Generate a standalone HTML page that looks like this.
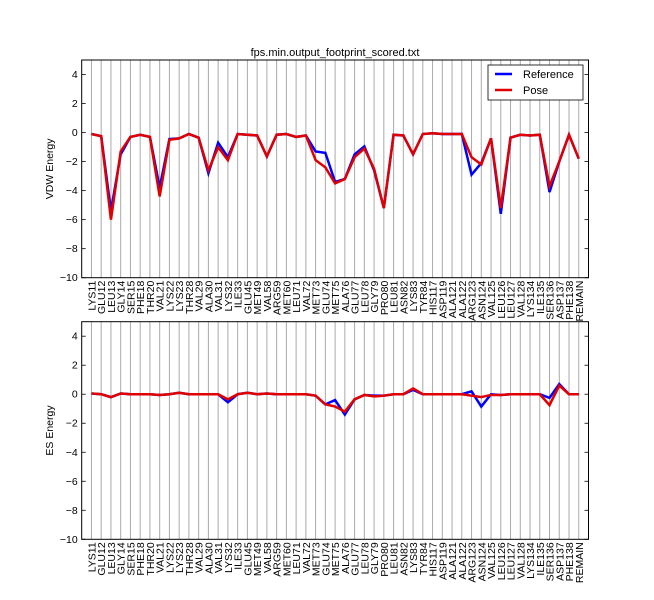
<!DOCTYPE html>
<html><head><meta charset="utf-8">
<style>
html,body{margin:0;padding:0;background:#fff;}
svg{display:block;font-family:"Liberation Sans","DejaVu Sans",sans-serif;}
</style></head>
<body>
<svg id="chart" width="654" height="600" viewBox="0 0 654 600" xmlns="http://www.w3.org/2000/svg">
<rect x="0" y="0" width="654" height="600" fill="#fff"/>
<text x="335" y="56" font-size="11" text-anchor="middle">fps.min.output_footprint_scored.txt</text>
<g id="top"></g>
<g id="bottom"></g>
</svg>
<script>
const categories = ["LYS11","GLU12","LEU13","GLY14","SER15","PHE18","THR20","VAL21","LYS22","LYS23","THR28","VAL29","ALA30","VAL31","LYS32","ILE33","GLU45","MET49","VAL58","ARG59","MET60","LEU71","VAL72","MET73","GLU74","MET75","ALA76","GLU77","LEU78","GLY79","PRO80","LEU81","ASN82","LYS83","TYR84","HIS117","ASP119","ALA121","ALA122","ARG123","ASN124","VAL125","LEU126","LEU127","VAL128","LYS134","ILE135","SER136","ASP137","PHE138","REMAIN"];
const vdwReference = [-0.1,-0.25,-5.4,-1.5,-0.3,-0.15,-0.3,-3.8,-0.45,-0.4,-0.1,-0.35,-2.8,-0.7,-1.7,-0.1,-0.15,-0.2,-1.65,-0.15,-0.1,-0.3,-0.2,-1.3,-1.4,-3.4,-3.2,-1.5,-0.95,-2.6,-5.2,-0.15,-0.2,-1.5,-0.1,-0.05,-0.1,-0.1,-0.1,-2.9,-2.1,-0.4,-5.6,-0.35,-0.15,-0.2,-0.15,-4.1,-2.0,-0.15,-1.8];
const vdwPose = [-0.1,-0.25,-6.0,-1.3,-0.3,-0.15,-0.3,-4.4,-0.5,-0.4,-0.1,-0.35,-2.6,-1.0,-1.9,-0.1,-0.15,-0.2,-1.65,-0.15,-0.1,-0.3,-0.2,-1.9,-2.4,-3.5,-3.2,-1.7,-1.1,-2.5,-5.2,-0.15,-0.2,-1.5,-0.1,-0.05,-0.1,-0.1,-0.1,-1.7,-2.2,-0.4,-5.2,-0.35,-0.15,-0.2,-0.15,-3.7,-2.0,-0.15,-1.8];
const esReference = [0.05,0,-0.2,0.05,0,0,0,-0.05,0,0.1,0,0,0,0,-0.55,0,0.1,0,0.05,0,0,0,0,-0.1,-0.7,-0.4,-1.4,-0.35,-0.05,-0.1,-0.1,0,0,0.3,0,0,0,0,0,0.2,-0.85,0,-0.05,0,0,0,0,-0.25,0.7,0,0];
const esPose = [0.05,0,-0.2,0.05,0,0,0,-0.05,0,0.1,0,0,0,0,-0.35,0,0.1,0,0.05,0,0,0,0,-0.1,-0.7,-0.85,-1.2,-0.35,-0.05,-0.15,-0.1,0,0,0.4,0,0,0,0,0,-0.1,-0.2,-0.05,-0.05,0,0,0,0,-0.75,0.6,0,0];
const yTicks = [4,2,0,-2,-4,-6,-8,-10];

const NS="http://www.w3.org/2000/svg";
function mk(tag,attrs,parent){const e=document.createElementNS(NS,tag);for(const k in attrs)e.setAttribute(k,attrs[k]);parent.appendChild(e);return e;}

function panel(g, top, bottom, refData, poseData, yTitle, showLegend, prefix){
  const left=81.7,right=588.5;
  const xs=i=>left+(i+1)*(right-left)/(categories.length+1);
  const ys=v=>top+(5-v)*(bottom-top)/15;
  categories.forEach((c,i)=>{
    const l=mk('line',{x1:xs(i),x2:xs(i),y1:top,y2:bottom,stroke:'#aaa','stroke-width':1},g);
    
    
    const t=mk('text',{x:0,y:0,'font-size':10.5,'text-anchor':'end',transform:`translate(${xs(i)+4},${bottom+3}) rotate(-90)`},g);
    t.textContent=c;
    
    
  });
  yTicks.forEach(v=>{
    mk('line',{x1:left,x2:left+4,y1:ys(v),y2:ys(v),stroke:'#000','stroke-width':0.8},g);
    mk('line',{x1:right-4,x2:right,y1:ys(v),y2:ys(v),stroke:'#000','stroke-width':0.8},g);
    const t=mk('text',{x:left-4,y:ys(v)+3.5,'font-size':10.5,'text-anchor':'end'},g);
    t.textContent=(v<0?'\u2212':'')+Math.abs(v);
    
    
  });
  const mkLine=(data,color,name)=>{
    const p=mk('polyline',{points:data.map((v,i)=>xs(i)+','+ys(v)).join(' '),fill:'none',stroke:color,'stroke-width':2.5,'stroke-linejoin':'miter'},g);
    
    
  };
  mkLine(refData,'#0000ff',prefix+'-reference-line');
  mkLine(poseData,'#e00000',prefix+'-pose-line');
  const fr=mk('rect',{x:left,y:top,width:right-left,height:bottom-top,fill:'none',stroke:'#000','stroke-width':1},g);
  
  
  const yt=mk('text',{x:0,y:0,'font-size':10.5,'text-anchor':'middle',transform:`translate(53,${(top+bottom)/2}) rotate(-90)`},g);
  yt.textContent=yTitle;
  
  
  if(showLegend){
    const lg=mk('g',{},g);
    
    
    mk('rect',{x:488,y:65,width:95,height:35,fill:'#fff',stroke:'#000','stroke-width':0.8},lg);
    mk('line',{x1:495,x2:512,y1:74,y2:74,stroke:'#0000ff','stroke-width':2.5},lg);
    mk('line',{x1:495,x2:512,y1:90,y2:90,stroke:'#e00000','stroke-width':2.5},lg);
    const a=mk('text',{x:523,y:78,'font-size':11},lg);a.textContent='Reference';
    
    
    const b=mk('text',{x:523,y:94,'font-size':11},lg);b.textContent='Pose';
    
    
  }
}
panel(document.getElementById('top'),60,277.7,vdwReference,vdwPose,'VDW Energy',true,'vdw');
panel(document.getElementById('bottom'),321.7,539.3,esReference,esPose,'ES Energy',false,'es');
</script>
</body></html>
